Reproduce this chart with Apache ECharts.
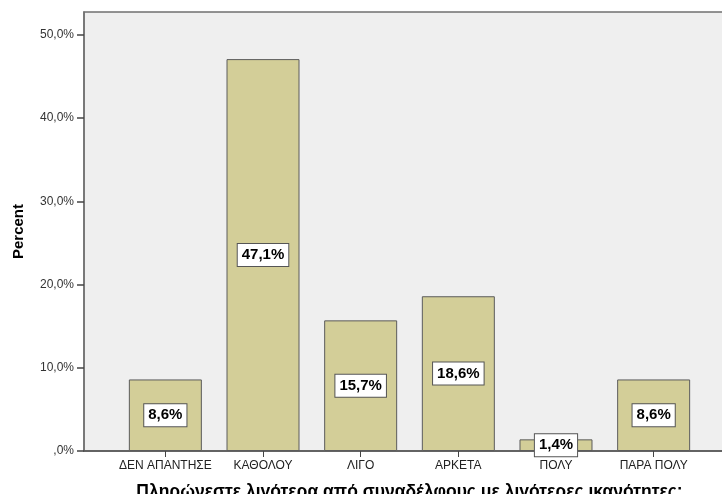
<!DOCTYPE html>
<html>
<head>
<meta charset="utf-8">
<script src="https://cdn.jsdelivr.net/npm/echarts@6/dist/echarts.min.js"></script>
<style>
  html, body { margin: 0; padding: 0; background: #ffffff; }
  #chart { width: 722px; height: 494px; }
</style>
</head>
<body>
<div id="chart"></div>
<script>
// Response categories and their percentages
const categories = ['ΔΕΝ ΑΠΑΝΤΗΣΕ', 'ΚΑΘΟΛΟΥ', 'ΛΙΓΟ', 'ΑΡΚΕΤΑ', 'ΠΟΛΥ', 'ΠΑΡΑ ΠΟΛΥ'];
const percents = [8.6, 47.1, 15.7, 18.6, 1.4, 8.6];
const yTicks = [0, 10, 20, 30, 40, 50];
const xTitle = 'Πληρώνεστε λιγότερα από συναδέλφους με λιγότερες ικανότητες;';
const yTitle = 'Percent';

const fmtPct = v => (v === 0 ? ',0' : v.toFixed(1).replace('.', ',')) + '%';
const FONT = '"Liberation Sans", Arial, sans-serif';

const chart = echarts.init(document.getElementById('chart'), null, { renderer: 'canvas' });

chart.setOption({
  animation: false,
  grid: {
    left: 84, top: 12, right: -13, bottom: 43,
    containLabel: false,
    outerBoundsMode: 'none',
    show: true,
    backgroundColor: '#efefef',
    borderColor: '#707070',
    borderWidth: 1.5
  },
  xAxis: {
    type: 'value',
    min: -0.833,
    max: categories.length - 1 + 0.833,
    name: xTitle,
    nameLocation: 'middle',
    nameGap: 32,
    nameTextStyle: { fontFamily: FONT, fontSize: 17.5, fontWeight: 'bold', color: '#000' },
    splitLine: { show: false },
    axisLine: { show: true, onZero: false, lineStyle: { color: '#555', width: 1.5 } },
    axisTick: {
      show: true, length: 6, inside: false,
      customValues: categories.map((_, i) => i),
      lineStyle: { color: '#444', width: 1 }
    },
    axisLabel: {
      customValues: categories.map((_, i) => i),
      formatter: v => categories[Math.round(v)] || '',
      fontFamily: FONT, fontSize: 12, color: '#222', margin: 9
    }
  },
  yAxis: {
    type: 'value',
    min: 0,
    max: 52.76,
    name: yTitle,
    nameLocation: 'middle',
    nameRotate: 90,
    nameGap: 58,
    nameTextStyle: { fontFamily: FONT, fontSize: 15, fontWeight: 'bold', color: '#000' },
    splitLine: { show: false },
    axisLine: { show: true, onZero: false, lineStyle: { color: '#707070', width: 1.5 } },
    axisTick: {
      show: true, length: 7, inside: false,
      customValues: yTicks,
      lineStyle: { color: '#444', width: 1.5 }
    },
    axisLabel: {
      customValues: yTicks,
      formatter: fmtPct,
      fontFamily: FONT, fontSize: 12, color: '#333', margin: 10
    }
  },
  series: [{
    type: 'bar',
    barWidth: 73,
    data: percents.map((v, i) => [i, v]),
    itemStyle: { color: '#d3ce98', borderColor: '#5c5c5c', borderWidth: 1 },
    label: {
      show: true,
      position: 'inside',
      formatter: p => fmtPct(p.value[1]),
      fontFamily: FONT, fontSize: 15, fontWeight: 'bold', color: '#000',
      backgroundColor: '#ffffff',
      borderColor: '#555',
      borderWidth: 1,
      padding: [4, 4, 3, 4]
    }
  }]
});
</script>
</body>
</html>
